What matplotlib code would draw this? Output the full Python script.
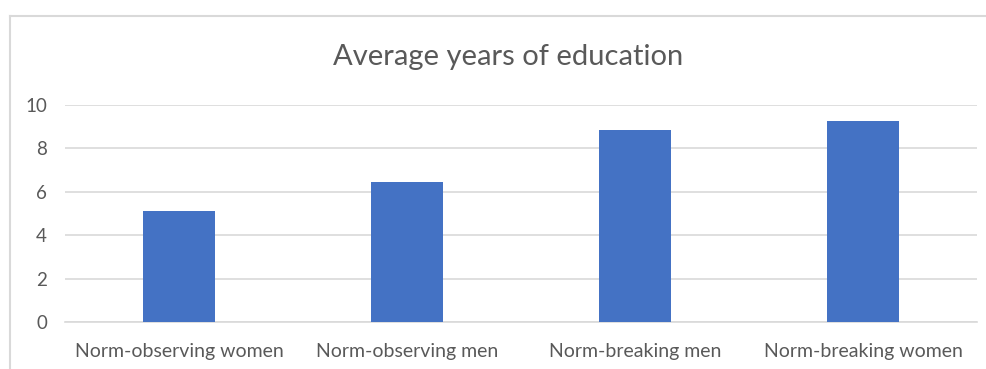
import matplotlib.pyplot as plt
from matplotlib.lines import Line2D

# average years of schooling per group
groups = ['Norm-observing women', 'Norm-observing men',
          'Norm-breaking men', 'Norm-breaking women']
years = [5.1, 6.46, 8.85, 9.26]
yticks = [0, 2, 4, 6, 8, 10]

bar_color = '#4472C4'
grid_color = '#D9D9D9'
text_color = '#595959'

plt.rcParams['font.family'] = ['Lato', 'DejaVu Sans']

W, H = 986, 369
fig = plt.figure(figsize=(W / 100, H / 100), dpi=100)
ax = fig.add_axes([65 / W, 1 - 322.3 / H, 912 / W, 217.3 / H])

x = range(len(groups))
ax.bar(x, years, width=0.315, color=bar_color, zorder=3)

ax.set_xlim(-0.5, len(groups) - 0.5)
ax.set_ylim(0, 10)
ax.set_yticks(yticks)
ax.set_yticklabels([str(t) for t in yticks], fontsize=13.5, color=text_color)
ax.set_xticks(list(x))
ax.set_xticklabels(groups, fontsize=14, color=text_color)
ax.tick_params(axis='both', length=0)
ax.tick_params(axis='y', pad=13)
ax.tick_params(axis='x', pad=15)
ax.grid(axis='y', color=grid_color, linewidth=1.2, zorder=0)
for side in ['top', 'right', 'left']:
    ax.spines[side].set_visible(False)
ax.spines['bottom'].set_color(grid_color)
ax.spines['bottom'].set_linewidth(1.2)

fig.text(508 / W, 1 - 57 / H, 'Average years of education',
         ha='center', va='center', fontsize=21, color=text_color)

# chart area border (top and left edges)
fig.add_artist(Line2D([10 / W, 1], [1 - 16 / H, 1 - 16 / H],
                      color=grid_color, linewidth=1.5, transform=fig.transFigure))
fig.add_artist(Line2D([10 / W, 10 / W], [0, 1 - 16 / H],
                      color=grid_color, linewidth=1.5, transform=fig.transFigure))

fig.savefig('out.png', dpi=100)
